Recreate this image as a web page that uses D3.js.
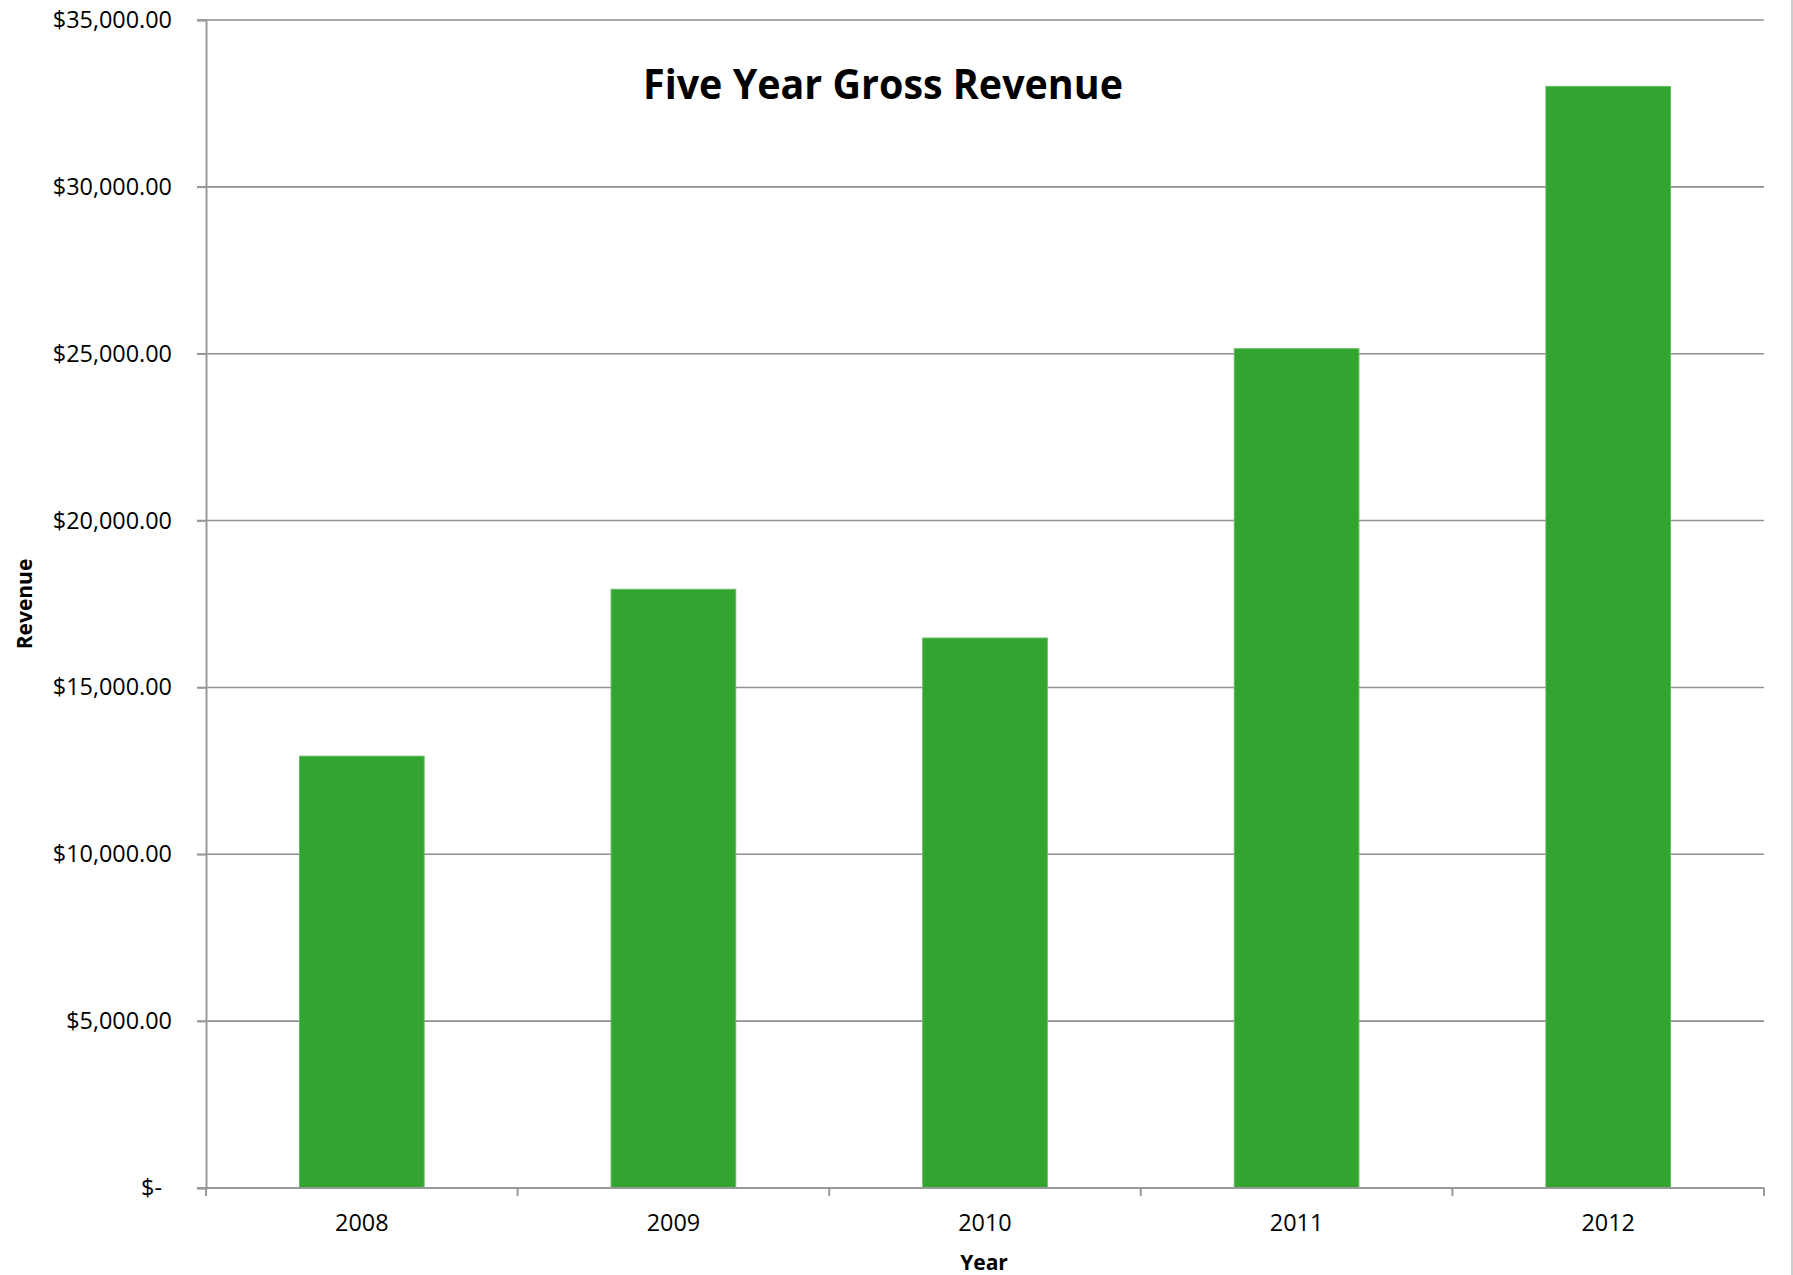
<!DOCTYPE html>
<html>
<head>
<meta charset="utf-8">
<script src="https://cdn.jsdelivr.net/npm/d3@7"></script>
<style>
  html, body { margin: 0; padding: 0; background: #fff; }
  svg { display: block; }
  text { font-family: "Open Sans", "Liberation Sans", sans-serif; fill: #000; }
</style>
</head>
<body>
<svg id="chart" width="1793" height="1275"></svg>
<script>
const categories = ["2008", "2009", "2010", "2011", "2012"];
const revenue = [12940, 17940, 16480, 25150, 33010];
const yTicks = [0, 5000, 10000, 15000, 20000, 25000, 30000, 35000];
const titleText = "Five Year Gross Revenue";
const xTitle = "Year";
const yTitle = "Revenue";

const svg = d3.select("#chart");
const margin = { left: 206, right: 1764, top: 20, bottom: 1188 };

const x = d3.scaleBand().domain(categories)
  .range([margin.left, margin.right]).paddingInner(0.6).paddingOuter(0.3);
const y = d3.scaleLinear().domain([0, 35000]).range([margin.bottom, margin.top]);

const fmt = v => v === 0 ? "$-" : "$" + d3.format(",.2f")(v);

// gridlines
svg.append("g").selectAll("line").data(yTicks.filter(d => d > 0)).join("line")
  .attr("x1", margin.left - 9).attr("x2", margin.right)
  .attr("y1", d => y(d)).attr("y2", d => y(d))
  .attr("stroke", "#8f8f8f").attr("stroke-width", 1.6);

// bars
svg.append("g").selectAll("rect").data(categories).join("rect")
  .attr("x", d => x(d))
  .attr("width", x.bandwidth())
  .attr("y", (d, i) => y(revenue[i]))
  .attr("height", (d, i) => y(0) - y(revenue[i]))
  .attr("fill", "#33a42f")
  .attr("stroke", "#62bb5e").attr("stroke-width", 1);

// y axis
const yAxis = svg.append("g").attr("transform", `translate(${margin.left},0)`)
  .call(d3.axisLeft(y).tickValues(yTicks).tickFormat(fmt).tickSize(9).tickPadding(25));
yAxis.select(".domain").attr("stroke", "#999").attr("stroke-width", 2);
yAxis.selectAll(".tick line").attr("stroke", "#999").attr("stroke-width", 1.6);
yAxis.selectAll(".tick text")
  .style("font-family", '"Open Sans", sans-serif').style("font-size", "23.4px").attr("fill", "#000")
  .attr("dx", d => d === 0 ? -10 : 0);

// x axis
const step = x.step();
const boundaries = d3.range(categories.length + 1).map(i => margin.left + i * step);
const xg = svg.append("g");
xg.append("line").attr("x1", margin.left - 9).attr("x2", margin.right)
  .attr("y1", margin.bottom).attr("y2", margin.bottom)
  .attr("stroke", "#999").attr("stroke-width", 2);
xg.selectAll("line.tk").data(boundaries).join("line").attr("class", "tk")
  .attr("x1", d => d).attr("x2", d => d)
  .attr("y1", margin.bottom).attr("y2", margin.bottom + 8)
  .attr("stroke", "#999").attr("stroke-width", 2);
xg.selectAll("text").data(categories).join("text")
  .attr("x", d => x(d) + x.bandwidth() / 2)
  .attr("y", 1231)
  .attr("text-anchor", "middle")
  .style("font-size", "23.4px")
  .text(d => d);

// titles
svg.append("text").attr("x", 883).attr("y", 99).attr("text-anchor", "middle")
  .style("font-size", "42px").style("font-weight", "bold")
  .attr("textLength", 480).attr("lengthAdjust", "spacingAndGlyphs")
  .text(titleText);

svg.append("text").attr("x", 984).attr("y", 1270).attr("text-anchor", "middle")
  .style("font-size", "21px").style("font-weight", "bold").text(xTitle);

svg.append("text").attr("transform", "translate(32,604) rotate(-90)")
  .attr("text-anchor", "middle")
  .style("font-size", "21px").style("font-weight", "bold").text(yTitle);

// chart border on right
svg.append("line").attr("x1", 1792).attr("x2", 1792).attr("y1", 0).attr("y2", 1275)
  .attr("stroke", "#bdbdbd").attr("stroke-width", 1.5);
</script>
</body>
</html>
